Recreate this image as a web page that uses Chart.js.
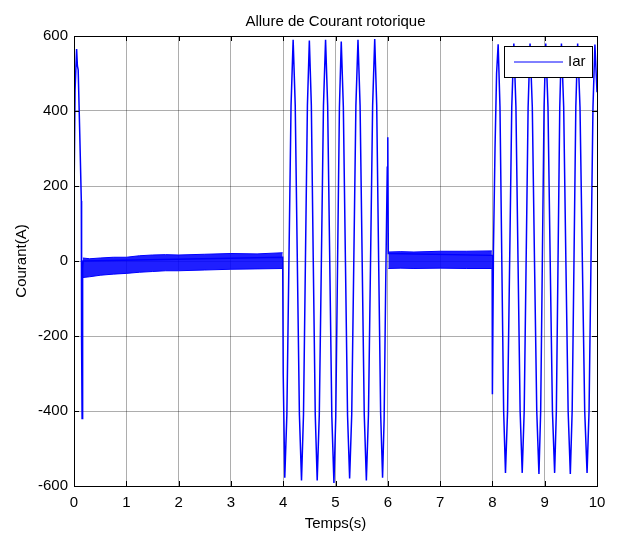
<!DOCTYPE html>
<html>
<head>
<meta charset="utf-8">
<script src="https://cdn.jsdelivr.net/npm/chart.js@4"></script>
<style>
  html, body { margin: 0; padding: 0; background: #fff; }
  #wrap { width: 620px; height: 534px; }
</style>
</head>
<body>
<div id="wrap"><canvas id="c" width="620" height="534"></canvas></div>
<script>
// valeurs : temps (s) / courant (A)
const xTicks = [0, 1, 2, 3, 4, 5, 6, 7, 8, 9, 10];
const yTicks = [-600, -400, -200, 0, 200, 400, 600];

// démarrage
const transT = [0, 0.005, 0.02, 0.05, 0.065, 0.08, 0.11, 0.14, 0.145, 0.155, 0.165, 0.175];
const transI = [-25, 230, 455, 565, 520, 510, 340, 160, -210, -420, -20, 0];

// bande de bruit (enveloppe haute / basse)
const band1T  = [0.17, 0.3, 0.5, 0.75, 1.0, 1.25, 1.5, 1.75, 2.0, 2.5, 3.0, 3.5, 3.99];
const band1Hi = [8, 6, 8, 10, 10, 14, 16, 17, 16, 18, 20, 19, 22];
const band1Lo = [-44, -42, -38, -35, -33, -30, -28, -26, -26, -24, -22, -21, -20];

const band2T  = [6.01, 6.25, 6.5, 7.0, 7.5, 7.99];
const band2Hi = [24, 25, 24, 26, 26, 27];
const band2Lo = [-20, -19, -20, -19, -20, -20];

// oscillations 4 -> 6 s
const seg1T = [3.99, 4.0, 4.03, 4.07, 4.11, 4.15, 4.19, 4.23, 4.27, 4.31, 4.35, 4.388, 4.425, 4.463, 4.50,
  4.538, 4.575, 4.613, 4.65, 4.69, 4.73, 4.77, 4.81, 4.85, 4.89, 4.93, 4.97, 5.005, 5.04, 5.075, 5.11,
  5.15, 5.19, 5.23, 5.27, 5.31, 5.35, 5.39, 5.43, 5.47, 5.51, 5.55, 5.59, 5.63, 5.67, 5.71, 5.75,
  5.788, 5.825, 5.863, 5.90, 5.93, 5.96, 5.99, 6.0, 6.01];
const seg1I = [10, -300, -578, -410, 5, 415, 590, 415, 0, -410, -585, -410, 0, 415, 588,
  415, 0, -410, -585, -410, 0, 415, 590, 415, 0, -415, -592, -415, 0, 410, 585,
  410, 0, -410, -580, -410, 0, 415, 590, 415, 0, -410, -585, -410, 0, 415, 592,
  415, 0, -405, -578, -420, -60, 250, 330, 20];

// oscillations 8 -> 10 s
const seg2T = [7.995, 8.0, 8.02, 8.05, 8.08, 8.11, 8.145, 8.18, 8.215, 8.25, 8.29, 8.33, 8.37, 8.41,
  8.45, 8.49, 8.53, 8.57, 8.608, 8.645, 8.683, 8.72, 8.763, 8.805, 8.848, 8.89, 8.923, 8.955, 8.988, 9.02,
  9.063, 9.105, 9.148, 9.19, 9.223, 9.255, 9.288, 9.32, 9.363, 9.405, 9.448, 9.49, 9.525, 9.56, 9.595, 9.63,
  9.675, 9.72, 9.765, 9.81, 9.848, 9.885, 9.923, 9.96, 10.0];
const seg2I = [15, -355, 30, 300, 500, 578, 410, 0, -400, -565, -400, 0, 410, 580,
  410, 0, -400, -565, -400, 0, 410, 580, 410, 0, -400, -568, -400, 0, 410, 580,
  410, 0, -400, -565, -400, 0, 410, 580, 410, 0, -400, -568, -400, 0, 410, 580,
  410, 0, -400, -565, -400, 0, 410, 577, 450];

const BLUE = '#0000ff';
const FONT = "'Liberation Sans', Arial, sans-serif";
Chart.defaults.font.family = FONT;
Chart.defaults.font.size = 15;
Chart.defaults.color = '#000';

const pts = (ts, vs) => ts.map((t, i) => ({ x: t, y: vs[i] }));
const trace = pts(transT, transI).concat(pts(seg1T, seg1I), pts(seg2T, seg2I));

function bandSet(ts, vs, fill) {
  return {
    data: pts(ts, vs), borderColor: BLUE, borderWidth: 1, pointRadius: 0,
    backgroundColor: 'rgba(0,0,255,0.88)', fill: fill
  };
}

// cadre, graduations internes, titre et légende façon MATLAB
const matlabFrame = {
  id: 'matlabFrame',
  afterDraw(chart) {
    const { ctx, chartArea: a, scales: { x, y } } = chart;
    ctx.save();
    ctx.strokeStyle = '#000';
    ctx.lineWidth = 1;
    ctx.beginPath();
    xTicks.forEach(v => {
      const px = Math.round(x.getPixelForValue(v)) + 0.5;
      ctx.moveTo(px, a.bottom); ctx.lineTo(px, a.bottom - 5);
      ctx.moveTo(px, a.top); ctx.lineTo(px, a.top + 5);
    });
    yTicks.forEach(v => {
      const py = Math.round(y.getPixelForValue(v)) + 0.5;
      ctx.moveTo(a.left, py); ctx.lineTo(a.left + 5, py);
      ctx.moveTo(a.right, py); ctx.lineTo(a.right - 5, py);
    });
    ctx.stroke();
    ctx.strokeRect(Math.round(a.left) + 0.5, Math.round(a.top) + 0.5,
      Math.round(a.right - a.left), Math.round(a.bottom - a.top));

    // titre
    ctx.fillStyle = '#000';
    ctx.font = '15px ' + FONT;
    ctx.textAlign = 'center';
    ctx.textBaseline = 'alphabetic';
    ctx.fillText('Allure de Courant rotorique', (a.left + a.right) / 2, 26);

    // légende
    const lx = 504, ly = 46, lw = 88, lh = 31;
    ctx.fillStyle = '#fff';
    ctx.fillRect(lx, ly, lw, lh);
    ctx.strokeRect(lx + 0.5, ly + 0.5, lw, lh);
    ctx.strokeStyle = BLUE;
    ctx.beginPath();
    ctx.moveTo(514, 62); ctx.lineTo(563, 62);
    ctx.stroke();
    ctx.fillStyle = '#000';
    ctx.textAlign = 'left';
    ctx.textBaseline = 'middle';
    ctx.fillText('Iar', 568, 62);
    ctx.restore();
  }
};

new Chart(document.getElementById('c'), {
  type: 'line',
  data: {
    datasets: [
      { data: trace, borderColor: BLUE, borderWidth: 1.5, pointRadius: 0, fill: false, tension: 0 },
      bandSet(band1T, band1Hi, '+1'),
      bandSet(band1T, band1Lo, false),
      bandSet(band2T, band2Hi, '+1'),
      bandSet(band2T, band2Lo, false)
    ]
  },
  options: {
    responsive: false,
    animation: false,
    layout: { padding: { top: 36, right: 23, bottom: 0, left: 0 } },
    plugins: { legend: { display: false }, tooltip: { enabled: false } },
    scales: {
      x: {
        type: 'linear', min: 0, max: 10,
        afterBuildTicks: s => { s.ticks = xTicks.map(v => ({ value: v })); },
        afterFit: s => { s.height = 48; },
        ticks: { padding: 8, maxRotation: 0, font: { size: 15 } },
        grid: { color: 'rgba(0,0,0,0.32)', drawTicks: false },
        border: { display: false },
        title: { display: true, text: 'Temps(s)', font: { size: 15 }, padding: { top: 0, bottom: 1 } }
      },
      y: {
        min: -600, max: 600,
        afterBuildTicks: s => { s.ticks = yTicks.map(v => ({ value: v })); },
        afterFit: s => { s.width = 74; },
        ticks: { padding: 6, font: { size: 15 } },
        grid: { color: 'rgba(0,0,0,0.32)', drawTicks: false },
        border: { display: false },
        title: { display: true, text: 'Courant(A)', font: { size: 15 }, padding: { top: 13, bottom: 0 } }
      }
    }
  },
  plugins: [matlabFrame]
});
</script>
</body>
</html>
